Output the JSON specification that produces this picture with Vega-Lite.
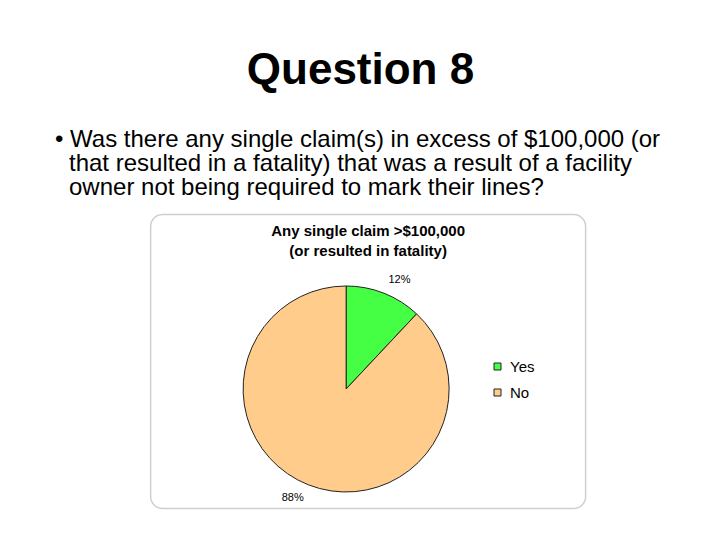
{
  "$schema": "https://vega.github.io/schema/vega-lite/v6.json",
  "background": "white",
  "padding": {"left": 55, "top": 48, "right": 0, "bottom": 0},
  "title": {
    "text": "Question 8",
    "font": "Liberation Sans",
    "fontSize": 44,
    "fontWeight": "bold",
    "color": "black",
    "anchor": "middle",
    "offset": 35.5,
    "dx": -8
  },
  "spacing": 13.5,
  "center": true,
  "vconcat": [
    {
      "width": 627,
      "height": 72,
      "view": {"stroke": null},
      "data": {
        "values": [
          {"line": 1, "text": "• Was there any single claim(s) in excess of $100,000 (or"},
          {"line": 2, "text": "that resulted in a fatality) that was a result of a facility"},
          {"line": 3, "text": "owner not being required to mark their lines?"}
        ]
      },
      "encoding": {
        "y": {"field": "line", "type": "ordinal", "axis": null, "scale": {"domain": [1, 2, 3], "paddingInner": 0, "paddingOuter": 0}},
        "x": {"datum": 0, "type": "quantitative", "axis": null, "scale": {"domain": [0, 1]}},
        "text": {"field": "text"}
      },
      "layer": [
        {
          "transform": [{"filter": "datum.line == 1"}],
          "mark": {"type": "text", "align": "left", "baseline": "middle", "font": "Liberation Sans", "fontSize": 24, "color": "black"}
        },
        {
          "transform": [{"filter": "datum.line > 1"}],
          "mark": {"type": "text", "align": "left", "baseline": "middle", "font": "Liberation Sans", "fontSize": 24, "color": "black", "dx": 14}
        }
      ]
    },
    {
      "width": 435,
      "height": 294,
      "view": {"stroke": "#cfcfcf", "strokeWidth": 1.5, "cornerRadius": 12, "fill": "white"},
      "title": {
        "text": ["Any single claim >$100,000", "(or resulted in fatality)"],
        "font": "Liberation Sans",
        "fontSize": 15,
        "fontWeight": "bold",
        "color": "black",
        "anchor": "middle",
        "frame": "group",
        "lineHeight": 20,
        "offset": -44
      },
      "data": {
        "values": [
          {"answer": "Yes", "value": 12, "label": "12%"},
          {"answer": "No", "value": 88, "label": "88%"}
        ]
      },
      "encoding": {
        "theta": {"field": "value", "type": "quantitative", "stack": true},
        "order": {"field": "value", "type": "quantitative", "sort": "ascending"},
        "x": {"datum": 0.4494, "type": "quantitative", "axis": null, "scale": {"domain": [0, 1]}},
        "y": {"datum": 0.4065, "type": "quantitative", "axis": null, "scale": {"domain": [0, 1]}}
      },
      "layer": [
        {
          "mark": {"type": "arc", "outerRadius": 103, "stroke": "#222222", "strokeWidth": 1},
          "encoding": {
            "color": {
              "field": "answer",
              "type": "nominal",
              "scale": {"domain": ["Yes", "No"], "range": ["#44FF44", "#FFCC8C"]},
              "legend": {
                "title": null,
                "orient": "none",
                "legendX": 435,
                "legendY": 231,
                "symbolType": "square",
                "symbolSize": 49,
                "symbolStrokeColor": "#222222",
                "symbolStrokeWidth": 1,
                "symbolOpacity": 1,
                "labelFont": "Liberation Sans",
                "labelFontSize": 15,
                "labelColor": "black",
                "labelOffset": 5,
                "rowPadding": 10
              }
            }
          }
        },
        {
          "mark": {"type": "text", "radius": 121, "thetaOffset": 0.08, "font": "Liberation Sans", "fontSize": 11, "color": "black"},
          "encoding": {
            "detail": {"field": "answer", "type": "nominal"},
            "text": {"field": "label", "type": "nominal"}
          }
        }
      ]
    }
  ]
}
